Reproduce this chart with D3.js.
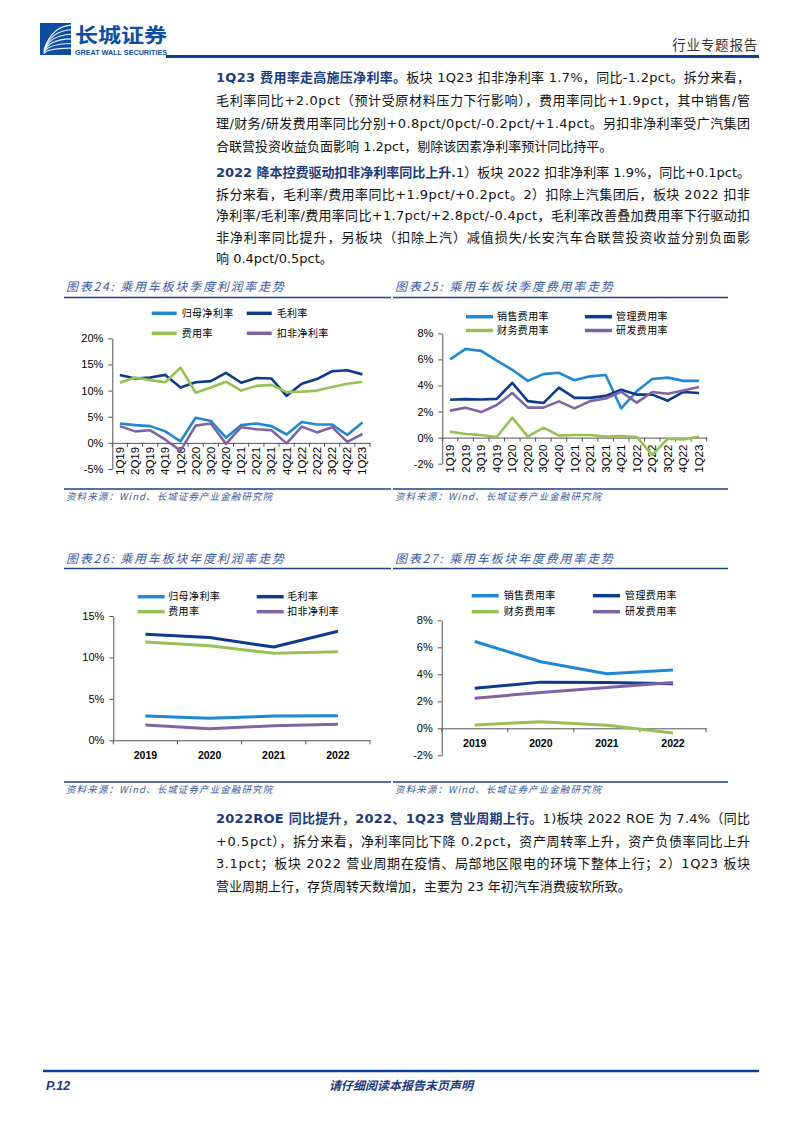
<!DOCTYPE html>
<html><head><meta charset="utf-8">
<script src="https://cdn.jsdelivr.net/npm/d3@7"></script>
<style>body{margin:0;background:#fff} svg{display:block}</style>
</head><body><svg id="page" width="794" height="1123"></svg>
<script>
// ---------------- DATA ----------------
const quarters = ["1Q19","2Q19","3Q19","4Q19","1Q20","2Q20","3Q20","4Q20","1Q21","2Q21","3Q21","4Q21","1Q22","2Q22","3Q22","4Q22","1Q23"];
const netMarginQ   = [3.7,3.4,3.2,2.2,0.3,4.8,4.2,1.0,3.4,3.7,3.2,1.6,4.0,3.5,3.5,1.5,3.9];   // 归母净利率
const grossMarginQ = [13.0,12.3,12.5,13.0,10.6,11.6,11.8,13.4,11.5,12.4,12.3,9.0,11.3,12.2,13.7,13.9,13.1]; // 毛利率
const expenseRateQ = [11.5,12.5,12.0,11.6,14.4,9.6,10.6,11.7,10.0,10.9,11.1,9.7,9.8,10.0,10.7,11.3,11.7]; // 费用率
const deductMarginQ= [3.2,2.2,2.4,0.6,-1.5,3.3,3.7,-0.2,3.0,2.6,2.4,-0.1,3.1,2.0,3.0,0.2,1.7]; // 扣非净利率

const salesExpQ = [6.0,6.8,6.65,5.9,5.2,4.35,4.87,4.97,4.4,4.7,4.8,2.25,3.55,4.5,4.6,4.35,4.35];
const adminExpQ = [2.9,2.95,2.92,2.97,4.2,2.8,2.65,3.83,3.05,3.05,3.2,3.67,3.3,3.3,2.83,3.5,3.42];
const finExpQ   = [0.46,0.28,0.2,0.05,1.53,0.08,0.77,0.15,0.2,0.2,0.08,0.13,0.05,-1.33,-0.08,-0.15,0.08];
const rdExpQ    = [2.07,2.3,1.96,2.5,3.42,2.3,2.3,2.78,2.24,2.8,3.0,3.52,2.68,3.5,3.37,3.62,3.88];

const years = ["2019","2020","2021","2022"];
const netMarginY    = [2.93,2.65,2.93,2.97];
const grossMarginY  = [12.8,12.4,11.25,13.15];
const expenseRateY  = [11.85,11.4,10.5,10.7];
const deductMarginY = [1.85,1.4,1.75,1.93];

const salesExpY = [6.43,4.93,4.04,4.31];
const adminExpY = [2.96,3.42,3.4,3.3];
const finExpY   = [0.25,0.49,0.22,-0.34];
const rdExpY    = [2.22,2.66,3.03,3.4];

const profitNames  = ["归母净利率","毛利率","费用率","扣非净利率"];
const expenseNames = ["销售费用率","管理费用率","财务费用率","研发费用率"];
const ticksQProfit = [-5,0,5,10,15,20];
const ticksExp     = [-2,0,2,4,6,8];
const ticksYProfit = [0,5,10,15];

const chartTitles = ["图表24:  乘用车板块季度利润率走势","图表25:  乘用车板块季度费用率走势","图表26:  乘用车板块年度利润率走势","图表27:  乘用车板块年度费用率走势"];
const sourceText = "资料来源：Wind、长城证券产业金融研究院";

const para1 = [
  [["1Q23 费用率走高施压净利率。",1],["板块 1Q23 扣非净利率 1.7%，同比-1.2pct。拆分来看，",0]],
  [["毛利率同比+2.0pct（预计受原材料压力下行影响），费用率同比+1.9pct，其中销售/管",0]],
  [["理/财务/研发费用率同比分别+0.8pct/0pct/-0.2pct/+1.4pct。另扣非净利率受广汽集团",0]],
  [["合联营投资收益负面影响 1.2pct，剔除该因素净利率预计同比持平。",0]]
];
const para2 = [
  [["2022 降本控费驱动扣非净利率同比上升.",1],["1）板块 2022 扣非净利率 1.9%，同比+0.1pct。",0]],
  [["拆分来看，毛利率/费用率同比+1.9pct/+0.2pct。2）扣除上汽集团后，板块 2022 扣非",0]],
  [["净利率/毛利率/费用率同比+1.7pct/+2.8pct/-0.4pct，毛利率改善叠加费用率下行驱动扣",0]],
  [["非净利率同比提升，另板块（扣除上汽）减值损失/长安汽车合联营投资收益分别负面影",0]],
  [["响 0.4pct/0.5pct。",0]]
];
const para3 = [
  [["2022ROE 同比提升，2022、1Q23 营业周期上行。",1],["1)板块 2022 ROE 为 7.4%（同比",0]],
  [["+0.5pct），拆分来看，净利率同比下降 0.2pct，资产周转率上升，资产负债率同比上升",0]],
  [["3.1pct；板块 2022 营业周期在疫情、局部地区限电的环境下整体上行；2）1Q23 板块",0]],
  [["营业周期上行，存货周转天数增加，主要为 23 年初汽车消费疲软所致。",0]]
];

// ---------------- STYLE ----------------
const C = {lblue:"#1f88d2", navy:"#0c3b8c", green:"#95c155", purple:"#7f64a5"};
const colors4 = [C.lblue, C.navy, C.green, C.purple];
const NAVY = "#0b3f91";
const TXT = "'DejaVu Sans','Noto Sans CJK SC',sans-serif";
const CJK = "'Noto Sans CJK SC',sans-serif";
const ARIAL = "'Liberation Sans',Arial,sans-serif";

const svg = d3.select("#page");

// ---------------- HEADER ----------------
const logo = svg.append("g");
logo.append("rect").attr("x",40).attr("y",23).attr("width",31).attr("height",32).attr("fill","#0d4ea1");
const arcs = [6,10,14,18,22,26];
logo.selectAll("path.arc").data(arcs).enter().append("path")
  .attr("d",d=>`M${44} ${55-d*0.2} Q ${44+d*0.3} ${55-d*1.1} ${71} ${55-d*1.15}`)
  .attr("fill","none").attr("stroke","#fff").attr("stroke-width",1.1).attr("opacity",0.9);
svg.append("text").attr("x",75).attr("y",42.5).attr("font-family",CJK).attr("font-weight","bold")
  .attr("font-size",20).attr("fill","#0d4ea1").attr("textLength",92).attr("lengthAdjust","spacingAndGlyphs").text("长城证券");
svg.append("text").attr("x",75).attr("y",54.5).attr("font-family",ARIAL).attr("font-weight","bold")
  .attr("font-size",6.3).attr("fill","#0d4ea1").attr("textLength",92).attr("lengthAdjust","spacingAndGlyphs").text("GREAT WALL SECURITIES");
svg.append("text").attr("x",758).attr("y",50).attr("text-anchor","end").attr("font-family",CJK)
  .attr("font-size",13.5).attr("fill","#333").attr("letter-spacing",0.8).text("行业专题报告");
svg.append("line").attr("x1",166).attr("x2",759).attr("y1",56.5).attr("y2",56.5).attr("stroke",NAVY).attr("stroke-width",3);

// ---------------- PARAGRAPHS ----------------
function drawPara(lines, y0, dy){
  lines.forEach((segs,i)=>{
    const last = i===lines.length-1;
    const t = svg.append("text").attr("x",216).attr("y",y0+i*dy)
      .attr("font-family",TXT).attr("font-size",13).attr("fill","#111");
    segs.forEach(s=>{
      const ts = t.append("tspan").text(s[0]);
      if(s[1]) ts.attr("font-weight","bold").attr("fill","#1b3a7e");
    });
    if(!last) t.attr("textLength",534).attr("lengthAdjust","spacing");
  });
}
drawPara(para1, 82, 23);
drawPara(para2, 177, 21.5);
drawPara(para3, 823, 22.5);

// ---------------- CHART FRAMES ----------------
function frame(x1,x2,titleY,lineY,botY,title){
  svg.append("text").attr("x",x1+2).attr("y",titleY).attr("font-family",CJK).attr("font-style","italic")
    .attr("font-size",12).attr("fill","#3a5a9c").attr("letter-spacing",1.8).text(title);
  svg.append("line").attr("x1",x1).attr("x2",x2).attr("y1",lineY).attr("y2",lineY).attr("stroke","#1f3f8a").attr("stroke-width",1.5);
  svg.append("line").attr("x1",x1).attr("x2",x2).attr("y1",botY).attr("y2",botY).attr("stroke","#1f3f8a").attr("stroke-width",1.5);
  svg.append("text").attr("x",x1+2).attr("y",botY+11).attr("font-family",CJK).attr("font-style","italic")
    .attr("font-size",9.5).attr("fill","#3a5a9c").attr("letter-spacing",1.1).text(sourceText);
}
frame(64,391,291,297.5,489,chartTitles[0]);
frame(393,728,291,297.5,489,chartTitles[1]);
frame(64,391,563,568.5,782,chartTitles[2]);
frame(393,728,563,568.5,782,chartTitles[3]);

// ---------------- CHARTS ----------------
function chart(cfg){
  const g = svg.append("g");
  const x = d3.scaleBand().domain(cfg.cats).range([cfg.x0,cfg.x1]).padding(0);
  const y = d3.scaleLinear().domain(cfg.yDomain).range(cfg.yRange);
  const cx = c => x(c)+x.bandwidth()/2;
  // y axis
  const ya = g.append("g").attr("transform",`translate(${cfg.x0},0)`)
    .call(d3.axisLeft(y).tickValues(cfg.ticks).tickFormat(d=>d+"%").tickSize(4).tickSizeOuter(0).tickPadding(5));
  ya.selectAll("path,line").attr("stroke","#555");
  ya.selectAll("text").attr("font-family",ARIAL).attr("font-size",11).attr("fill","#000");
  // x axis at zero
  const y0 = y(0);
  const xa = g.append("g").attr("transform",`translate(0,${y0})`)
    .call(d3.axisBottom(x).tickSize(0).tickSizeOuter(0).tickPadding(0));
  xa.select("path").attr("stroke","#555");
  // boundary ticks
  const bounds = cfg.cats.map(c=>x(c)).concat([cfg.x1]);
  xa.selectAll("line.b").data(bounds).enter().append("line").attr("class","b")
    .attr("x1",d=>d).attr("x2",d=>d).attr("y1",0).attr("y2",4).attr("stroke","#555");
  if(cfg.rotate){
    xa.selectAll(".tick text").attr("font-family",ARIAL).attr("font-size",11.5).attr("fill","#000")
      .attr("text-anchor","end").attr("transform","rotate(-90)").attr("x",-cfg.labOff).attr("y",0).attr("dy","0.35em");
  } else {
    xa.selectAll(".tick text").attr("font-family",ARIAL).attr("font-size",10.5).attr("font-weight","bold").attr("fill","#000")
      .attr("y",cfg.labY - y0).attr("dy","0.35em");
  }
  // lines
  const line = d3.line().x((d,i)=>cx(cfg.cats[i])).y(d=>y(d));
  cfg.series.forEach((s,i)=>{
    g.append("path").datum(s).attr("d",line).attr("fill","none").attr("stroke",colors4[i])
      .attr("stroke-width",cfg.sw).attr("stroke-linejoin","round");
  });
  // legend
  cfg.names.forEach((n,i)=>{
    const col = i%2, row = Math.floor(i/2);
    const lx = cfg.leg.cols[col], ly = cfg.leg.rows[row];
    g.append("line").attr("x1",lx).attr("x2",lx+cfg.leg.len).attr("y1",ly).attr("y2",ly)
      .attr("stroke",colors4[i]).attr("stroke-width",3.5);
    g.append("text").attr("x",lx+cfg.leg.len+cfg.leg.gap).attr("y",ly).attr("dy","0.36em")
      .attr("font-family",CJK).attr("font-size",10).attr("letter-spacing",0.4).attr("fill","#000").text(n);
  });
}

chart({cats:quarters,x0:112.3,x1:370,yDomain:[-5,20],yRange:[469,338.3],ticks:ticksQProfit,
  series:[netMarginQ,grossMarginQ,expenseRateQ,deductMarginQ],names:profitNames,rotate:true,labOff:4,sw:2.6,
  leg:{cols:[151.7,246.7],rows:[313.3,333.3],len:25,gap:5}});
chart({cats:quarters,x0:442.3,x1:706.7,yDomain:[-2,8],yRange:[463.7,333.3],ticks:ticksExp,
  series:[salesExpQ,adminExpQ,finExpQ,rdExpQ],names:expenseNames,rotate:true,labOff:7,sw:2.6,
  leg:{cols:[466,585],rows:[316.7,330.5],len:27,gap:4}});
chart({cats:years,x0:113.3,x1:370,yDomain:[0,15],yRange:[740.3,616],ticks:ticksYProfit,
  series:[netMarginY,grossMarginY,expenseRateY,deductMarginY],names:profitNames,rotate:false,labY:755,sw:3,
  leg:{cols:[137.7,256.7],rows:[596.7,611.7],len:27,gap:3.5}});
chart({cats:years,x0:441.7,x1:706,yDomain:[-2,8],yRange:[755.3,620.3],ticks:ticksExp,
  series:[salesExpY,adminExpY,finExpY,rdExpY],names:expenseNames,rotate:false,labY:743,sw:3,
  leg:{cols:[471.7,593],rows:[595.7,611.7],len:27,gap:5}});

// ---------------- FOOTER ----------------
svg.append("line").attr("x1",43).attr("x2",759).attr("y1",1071).attr("y2",1071).attr("stroke",NAVY).attr("stroke-width",2.5);
svg.append("text").attr("x",46).attr("y",1090).attr("font-family",ARIAL).attr("font-weight","bold").attr("font-style","italic")
  .attr("font-size",12.5).attr("fill","#1b3a7e").text("P.12");
svg.append("text").attr("x",401).attr("y",1090).attr("text-anchor","middle").attr("font-family",CJK).attr("font-weight","bold")
  .attr("font-style","italic").attr("font-size",12).attr("fill","#1b3a7e").text("请仔细阅读本报告末页声明");
</script></body></html>
